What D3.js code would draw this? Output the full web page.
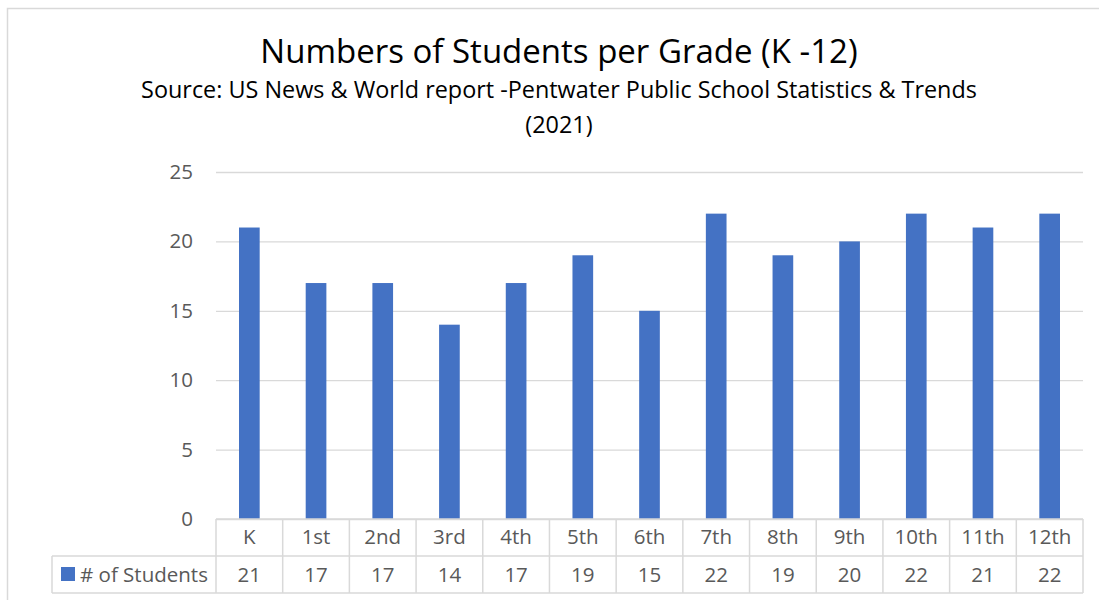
<!DOCTYPE html>
<html>
<head>
<meta charset="utf-8">
<script src="https://cdn.jsdelivr.net/npm/d3@7"></script>
<style>
  html, body { margin: 0; padding: 0; background: #fff; }
  svg { display: block; }
  text { font-family: "Open Sans", sans-serif; }
</style>
</head>
<body>
<svg id="chart" width="1099" height="600"></svg>
<script>
const grades = ["K", "1st", "2nd", "3rd", "4th", "5th", "6th", "7th", "8th", "9th", "10th", "11th", "12th"];
const students = [21, 17, 17, 14, 17, 19, 15, 22, 19, 20, 22, 21, 22];
const yTicks = [0, 5, 10, 15, 20, 25];
const seriesName = "# of Students";
const titleText = "Numbers of Students per Grade (K -12)";
const subtitleLines = ["Source: US News & World report -Pentwater Public School Statistics & Trends", "(2021)"];

const svg = d3.select("#chart");
const W = 1099, H = 600;
const plot = { left: 216, right: 1083, top: 172, bottom: 519 };
const barColor = "#4472C4";
const gridColor = "#d9d9d9";
const textColor = "#595959";
const labelSize = 20.5;

// outer chart border
svg.append("rect")
  .attr("x", 7.5).attr("y", 8.5)
  .attr("width", W + 10).attr("height", H + 10)
  .attr("fill", "#fff").attr("stroke", gridColor).attr("stroke-width", 1.5);

// titles
svg.append("text")
  .attr("x", 559).attr("y", 63)
  .attr("text-anchor", "middle")
  .attr("font-size", 33)
  .attr("fill", "#000")
  .text(titleText);

svg.selectAll("text.sub")
  .data(subtitleLines)
  .join("text")
  .attr("class", "sub")
  .attr("x", 559)
  .attr("y", (d, i) => 98 + i * 35)
  .attr("text-anchor", "middle")
  .attr("font-size", 23.4)
  .attr("fill", "#000")
  .text(d => d);

const x = d3.scaleBand().domain(grades).range([plot.left, plot.right]).padding(0);
const y = d3.scaleLinear().domain([0, 25]).range([plot.bottom, plot.top]);

// gridlines + y tick labels via axis
const yAxis = d3.axisLeft(y).tickValues(yTicks).tickSize(-(plot.right - plot.left)).tickPadding(23);
const gy = svg.append("g").attr("transform", `translate(${plot.left},0)`).call(yAxis);
gy.select(".domain").remove();
gy.selectAll(".tick line").attr("stroke", gridColor).attr("stroke-width", 1.3);
gy.selectAll(".tick text").attr("fill", textColor).attr("font-size", labelSize).attr("font-family", "'Open Sans', sans-serif");

// bars
const barRatio = 0.31;
svg.append("g").selectAll("rect")
  .data(grades.map((g, i) => ({ g, v: students[i] })))
  .join("rect")
  .attr("x", d => x(d.g) + x.bandwidth() * (1 - barRatio) / 2)
  .attr("width", x.bandwidth() * barRatio)
  .attr("y", d => y(d.v))
  .attr("height", d => y(0) - y(d.v))
  .attr("fill", barColor);

// data table
const rowTop = plot.bottom, rowMid = 556, rowBot = 593, tableLeft = 52;
const tg = svg.append("g").attr("stroke", gridColor).attr("stroke-width", 1.5).attr("fill", "none");
tg.append("line").attr("x1", plot.left).attr("x2", plot.right).attr("y1", rowTop).attr("y2", rowTop);
tg.append("line").attr("x1", tableLeft).attr("x2", plot.right).attr("y1", rowMid).attr("y2", rowMid);
tg.append("line").attr("x1", tableLeft).attr("x2", plot.right).attr("y1", rowBot).attr("y2", rowBot);
tg.append("line").attr("x1", tableLeft).attr("x2", tableLeft).attr("y1", rowMid).attr("y2", rowBot);
tg.selectAll("line.v")
  .data(grades.map(g => x(g)).concat([plot.right]))
  .join("line")
  .attr("class", "v")
  .attr("x1", d => d).attr("x2", d => d)
  .attr("y1", rowTop).attr("y2", rowBot);

// category labels
svg.append("g").selectAll("text")
  .data(grades)
  .join("text")
  .attr("x", d => x(d) + x.bandwidth() / 2)
  .attr("y", 544)
  .attr("text-anchor", "middle")
  .attr("font-size", labelSize)
  .attr("fill", textColor)
  .text(d => d);

// values row
svg.append("g").selectAll("text")
  .data(grades.map((g, i) => ({ g, v: students[i] })))
  .join("text")
  .attr("x", d => x(d.g) + x.bandwidth() / 2)
  .attr("y", 582)
  .attr("text-anchor", "middle")
  .attr("font-size", labelSize)
  .attr("fill", textColor)
  .text(d => d.v);

// legend key in table
svg.append("rect").attr("x", 61).attr("y", 567).attr("width", 14).attr("height", 14).attr("fill", barColor);
svg.append("text").attr("x", 80).attr("y", 582).attr("font-size", labelSize).attr("fill", textColor).text(seriesName);
</script>
</body>
</html>
